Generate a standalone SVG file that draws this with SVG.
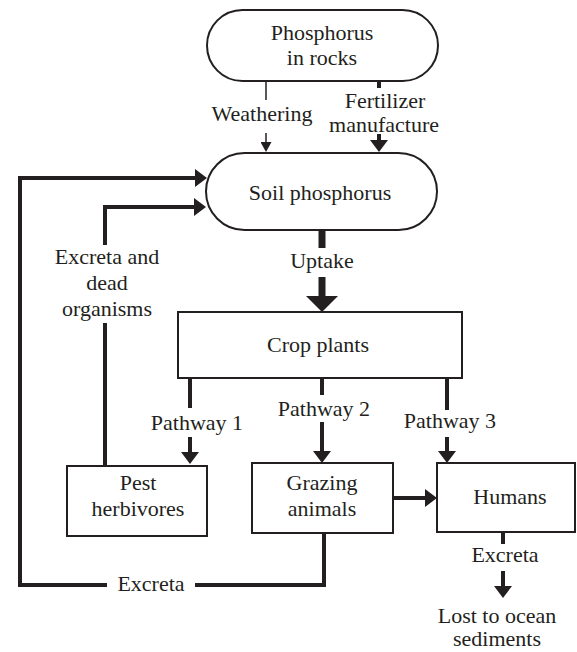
<svg xmlns="http://www.w3.org/2000/svg" width="577" height="652" viewBox="0 0 577 652">
  <style>
    .node { fill: #fff; stroke: #231f20; stroke-width: 2; }
    .txt { font-family: "Liberation Serif", "DejaVu Serif", serif; font-size: 22px; fill: #231f20; text-anchor: middle; }
    .bold { fill: none; stroke: #231f20; stroke-width: 4; stroke-linejoin: miter; }
    .thin { fill: none; stroke: #231f20; stroke-width: 1.5; }
    .heavy { fill: none; stroke: #231f20; stroke-width: 7; }
  </style>
  <defs>
    <marker id="headBold" markerUnits="userSpaceOnUse" viewBox="0 0 12 18" refX="0" refY="9" markerWidth="12" markerHeight="18" orient="auto">
      <path d="M0,0 L12,9 L0,18 z" fill="#231f20"/>
    </marker>
    <marker id="headThin" markerUnits="userSpaceOnUse" viewBox="0 0 10 11" refX="0" refY="5.5" markerWidth="10" markerHeight="11" orient="auto">
      <path d="M0,0 L10,5.5 L0,11 z" fill="#231f20"/>
    </marker>
    <marker id="headHeavy" markerUnits="userSpaceOnUse" viewBox="0 0 16 32" refX="0" refY="16" markerWidth="16" markerHeight="32" orient="auto">
      <path d="M0,0 L16,16 L0,32 z" fill="#231f20"/>
    </marker>
  </defs>

  <!-- connectors -->
  <g id="connectors">
    <!-- weathering -->
    <path class="thin" d="M266,81 V100"/>
    <path class="thin" d="M266,133 V142" marker-end="url(#headThin)"/>
    <!-- fertilizer manufacture -->
    <path class="bold" d="M379,81 V88"/>
    <path class="bold" d="M379,134 V140" marker-end="url(#headBold)"/>
    <!-- uptake -->
    <path class="heavy" d="M322,230 V248"/>
    <path class="heavy" d="M322,277 V296" marker-end="url(#headHeavy)"/>
    <!-- outer return loop from grazing animals -->
    <path class="bold" d="M107,585 H20 V178 H195" marker-end="url(#headBold)"/>
    <path class="bold" d="M195,585 H324 V533"/>
    <!-- inner return loop from pest herbivores -->
    <path class="bold" d="M105,466 V323"/>
    <path class="bold" d="M105,245 V207 H194" marker-end="url(#headBold)"/>
    <!-- pathway 1 -->
    <path class="bold" d="M190,378 V408"/>
    <path class="bold" d="M190,437 V452" marker-end="url(#headBold)"/>
    <!-- pathway 2 -->
    <path class="bold" d="M322,378 V395"/>
    <path class="bold" d="M322,422 V451" marker-end="url(#headBold)"/>
    <!-- pathway 3 -->
    <path class="bold" d="M447,378 V410"/>
    <path class="bold" d="M447,437 V451" marker-end="url(#headBold)"/>
    <!-- grazing animals to humans -->
    <path class="bold" d="M393,498 H425" marker-end="url(#headBold)"/>
    <!-- human excreta -->
    <path class="bold" d="M503,532 V544"/>
    <path class="bold" d="M503,571 V586" marker-end="url(#headBold)"/>

    <text class="txt" x="262" y="121">Weathering</text>
    <text class="txt" x="385" y="108">Fertilizer</text>
    <text class="txt" x="384" y="132">manufacture</text>
    <text class="txt" x="322" y="268">Uptake</text>
    <text class="txt" x="107" y="264">Excreta and</text>
    <text class="txt" x="107" y="290">dead</text>
    <text class="txt" x="107" y="316">organisms</text>
    <text class="txt" x="197" y="430">Pathway 1</text>
    <text class="txt" x="324" y="416">Pathway 2</text>
    <text class="txt" x="450" y="428">Pathway 3</text>
    <text class="txt" x="151" y="591">Excreta</text>
    <text class="txt" x="505" y="562">Excreta</text>
    <text class="txt" x="497" y="623">Lost to ocean</text>
    <text class="txt" x="497" y="646">sediments</text>
  </g>

  <g id="phosphorus-in-rocks">
    <rect class="node" x="207" y="10" width="231" height="71" rx="35.5"/>
    <text class="txt" x="322" y="40">Phosphorus</text>
    <text class="txt" x="322" y="65">in rocks</text>
  </g>

  <g id="soil-phosphorus">
    <rect class="node" x="206" y="153" width="231" height="77" rx="38.5"/>
    <text class="txt" x="320" y="200">Soil phosphorus</text>
  </g>

  <g id="crop-plants">
    <rect class="node" x="178" y="312" width="284" height="66"/>
    <text class="txt" x="318" y="352">Crop plants</text>
  </g>

  <g id="pest-herbivores">
    <rect class="node" x="67" y="466" width="140" height="70"/>
    <text class="txt" x="138" y="490">Pest</text>
    <text class="txt" x="138" y="516">herbivores</text>
  </g>

  <g id="grazing-animals">
    <rect class="node" x="252" y="463" width="141" height="70"/>
    <text class="txt" x="322" y="490">Grazing</text>
    <text class="txt" x="322" y="516">animals</text>
  </g>

  <g id="humans">
    <rect class="node" x="437" y="463" width="138" height="69"/>
    <text class="txt" x="510" y="504">Humans</text>
  </g>
</svg>
